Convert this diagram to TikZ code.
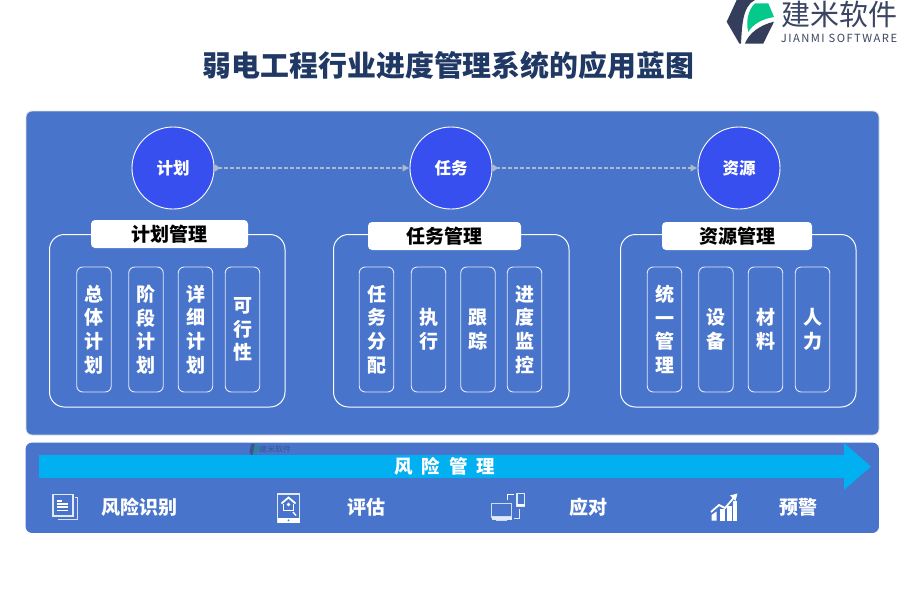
\documentclass[tikz,border=0pt]{standalone}
\usepackage{fontspec}
\setmainfont{Noto Sans CJK SC}
\usetikzlibrary{arrows.meta}
\definecolor{panelblue}{HTML}{4874CB}
\definecolor{circblue}{HTML}{384FF0}
\definecolor{cyanarrow}{HTML}{00B0F0}
\definecolor{navy}{HTML}{1F3864}
\definecolor{logodark}{HTML}{343D5C}
\definecolor{logogreen}{HTML}{05C98A}
\definecolor{logotext}{HTML}{3A4463}
\definecolor{flow}{HTML}{AEB8CE}
\tikzset{
 x=1pt,y=-1pt,
 panel/.style={draw=#1,line width=.8pt,fill=panelblue,rounded corners=6pt,inner sep=0,outer sep=0,anchor=north west},
 circ/.style={circle,draw=white,line width=.9pt,fill=circblue,minimum size=82pt,inner sep=0,text=white,font=\fontsize{16.5}{18}\bfseries\selectfont},
 groupbox/.style={draw=white,line width=1pt,rounded corners=15pt,minimum width=235.5pt,minimum height=172.5pt,inner sep=0,anchor=north west},
 grouptitle/.style={fill=white,rounded corners=4pt,minimum height=28pt,inner sep=0,text=black,font=\fontsize{19}{20}\bfseries\selectfont},
 tallbox/.style={draw=white!85!panelblue,line width=.9pt,rounded corners=6pt,minimum width=34.5pt,minimum height=125pt,inner sep=0,align=center,text=white,font=\fontsize{19}{23.6}\bfseries\selectfont},
 flowline/.style={draw=flow,line width=1.6pt,dash pattern=on 4pt off 2pt,-{Latex[length=7pt,width=8pt,fill=flow]}},
 botlabel/.style={text=white,inner sep=0,font=\fontsize{19}{21}\bfseries\selectfont},
 icon/.style={draw=white,line width=1.2pt},
}
\begin{document}
\begin{tikzpicture}
\useasboundingbox (0,0) rectangle (900,600);
\fill[white] (0,0) rectangle (900,600);
% logo
\fill[logodark] (736.7,0) -- (755,0) .. controls (742,6) and (742,28) .. (741,43.5) -- (739.3,43.5) -- (726.7,21.7) -- cycle;
\fill[logogreen] (755,3.3) -- (768.3,3.3) -- (774,17) .. controls (762,19) and (753,24) .. (748.3,32) .. controls (746,24) and (747,11) .. (755,3.3) -- cycle;
\fill[logodark] (774,21.7) -- (763.3,43.5) -- (745,43.5) .. controls (749,33) and (760,25) .. (774,21.7) -- cycle;
\node[inner sep=0,text=logotext,font=\fontsize{29}{30}\selectfont] (logocn) at (839.5,14) {建米软件};
\node[inner sep=0,text=logotext,font=\fontsize{11.2}{12}\selectfont] (logoen) at (839,38) {\addfontfeature{LetterSpace=13}JIANMI SOFTWARE};
% title
\node[inner sep=0,text=navy,font=\fontsize{28.9}{32}\bfseries\selectfont] (title) at (448.5,65) {弱电工程行业进度管理系统的应用蓝图};
% panels
\node[panel=white!75!gray,minimum width=853pt,minimum height=324pt] (top) at (26,111) {};
\node[panel=panelblue,minimum width=852.5pt,minimum height=89.5pt] (bottom) at (26,443) {};
% circles
\node[circ] (c1) at (173,168) {计划};
\node[circ] (c2) at (451,168) {任务};
\node[circ] (c3) at (739,168) {资源};
\fill[flow] (c1.east) ++(1,-3.5) -- ++(4.5,3.5) -- ++(-4.5,3.5) -- ++(-2.5,-3.5) -- cycle;
\fill[flow] (c2.east) ++(1,-3.5) -- ++(4.5,3.5) -- ++(-4.5,3.5) -- ++(-2.5,-3.5) -- cycle;
\draw[flowline] (c1.east) ++(4,0) -- (c2.west);
\draw[flowline] (c2.east) ++(4,0) -- (c3.west);
% groups
\node[groupbox] (g1) at (49,234) {};
\node[groupbox] (g2) at (333,234) {};
\node[groupbox] (g3) at (620,234) {};
\node[grouptitle,minimum width=157pt] (t1) at (169.5,234) {计划管理};
\node[grouptitle,minimum width=153pt] (t2) at (444.5,236) {任务管理};
\node[grouptitle,minimum width=150pt] (t3) at (737,236) {资源管理};
% tall boxes
\node[tallbox] (a1) at (94,329.5) {总\\体\\计\\划};
\node[tallbox] (a2) at (146,329.5) {阶\\段\\计\\划};
\node[tallbox] (a3) at (195.5,329.5) {详\\细\\计\\划};
\node[tallbox] (a4) at (242.5,329.5) {可\\行\\性};
\node[tallbox] (b1) at (376.5,329.5) {任\\务\\分\\配};
\node[tallbox] (b2) at (428.5,329.5) {执\\行};
\node[tallbox] (b3) at (478,329.5) {跟\\踪};
\node[tallbox] (b4) at (524.5,329.5) {进\\度\\监\\控};
\node[tallbox] (d1) at (664.5,329.5) {统\\一\\管\\理};
\node[tallbox] (d2) at (716,329.5) {设\\备};
\node[tallbox] (d3) at (765.5,329.5) {材\\料};
\node[tallbox] (d4) at (812.5,329.5) {人\\力};
% watermark
\fill[logodark,opacity=.55] (251,444) -- (255,444) -- (252,457) -- (249.5,452) -- cycle;
\fill[logogreen!60!logodark,opacity=.6] (254,445) -- (258,445) -- (260,449) -- (254,454) -- cycle;
\node[inner sep=0,text=logodark,opacity=.55,font=\fontsize{8}{9}\selectfont] (wm) at (275,449) {建米软件};
% big arrow
\fill[cyanarrow] (39,455) -- (844,455) -- (844,443) -- (871,466.5) -- (844,490) -- (844,478) -- (39,478) -- cycle;
\node[inner sep=0,text=white,font=\fontsize{18.5}{20}\bfseries\selectfont] (risk) at (445,466.5) {风\hspace{9pt}险\hspace{9pt}管\hspace{9pt}理};
% bottom labels
\node[botlabel] (l1) at (139,507) {风险识别};
\node[botlabel] (l2) at (366,507) {评估};
\node[botlabel] (l3) at (588,507) {应对};
\node[botlabel] (l4) at (798,507) {预警};
% icon: documents
\draw[icon,white!85!panelblue] (53,494.5) rectangle (73,516);
\draw[icon,line width=1pt,white!80!panelblue] (74.5,497) -- (77,497) -- (77,519.5) -- (58,519.5);
\draw[white,line width=1.1pt] (57,501) -- (62,501) (57,504) -- (68,504) (57,507) -- (68,507) (57,510.5) -- (68,510.5);
% icon: tablet
\draw[icon,white!85!panelblue] (277.5,494) -- (299.5,494) -- (299.5,522.5) -- (277.5,522.5) -- cycle;
\fill[white] (277.5,518) rectangle (299.5,522.5);
\fill[panelblue] (288.5,520.3) circle (1pt);
\draw[white,line width=1.8pt,line join=miter] (281.5,503.5) -- (288.5,497.5) -- (295.5,503.5);
\draw[white,line width=1.5pt] (283.5,504) -- (283.5,510.5) -- (293.5,510.5) -- (293.5,504);
\fill[white] (288.5,504.5) circle (1.8pt);
\draw[white,line width=1.4pt] (293,512) -- (296,515.5);
% icon: devices
\draw[icon,white!75!panelblue] (491.5,503.5) rectangle (511.5,517);
\fill[white!85!panelblue] (491.5,517) rectangle (511.5,519.5);
\fill[white!75!panelblue] (496,519.5) rectangle (507,521);
\draw[icon,white!85!panelblue] (517,493.5) rectangle (524.5,506);
\fill[white] (517,503.5) rectangle (524.5,506);
\draw[white,line width=1pt] (514,494.5) -- (507.5,494.5) -- (507.5,500);
\draw[white!85!panelblue,line width=1pt] (519,508.5) -- (519,518.5) -- (514,518.5);
% icon: chart
\fill[white] (711.5,515) -- (716.5,511.5) -- (716.5,520.5) -- (711.5,520.5) -- cycle;
\fill[white] (719.5,509) rectangle (724.5,520.5);
\fill[white] (727,506) rectangle (731.5,520.5);
\fill[white] (733,501) rectangle (736.5,520.5);
\draw[white,line width=1.8pt] (711,512) -- (719,505) -- (725,508) -- (734,497.5);
\fill[white] (737.5,493.5) -- (730,495.5) -- (735.5,501) -- cycle;
\end{tikzpicture}
\end{document}
